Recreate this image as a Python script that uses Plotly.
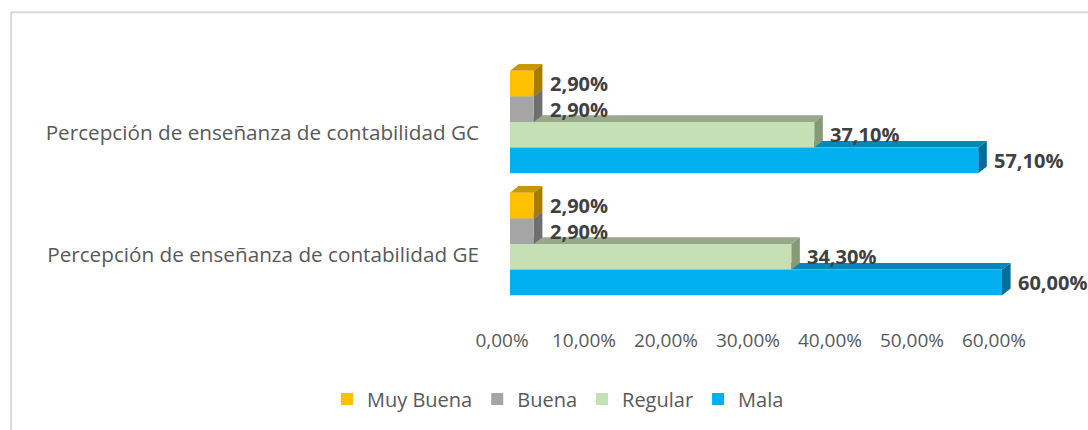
import plotly.graph_objects as go

categories = ["Percepción de enseñanza de contabilidad GE",
              "Percepción de enseñanza de contabilidad GC"]
# series listed bottom-to-top within each group
series_names = ["Mala", "Regular", "Buena", "Muy Buena"]
mala = [60.0, 57.1]
regular = [34.3, 37.1]
buena = [2.9, 2.9]
muy_buena = [2.9, 2.9]
x_ticks = [0, 10, 20, 30, 40, 50, 60]
x_tick_labels = ["0,00%", "10,00%", "20,00%", "30,00%", "40,00%", "50,00%", "60,00%"]

values = [mala, regular, buena, muy_buena]
front = ["#00B0F0", "#C5E0B4", "#A5A5A5", "#FFC000"]
top_c = ["#0088BA", "#98A98B", "#858585", "#C99800"]
side_c = ["#006F99", "#869A78", "#6E6E6E", "#A67C00"]

FONT = "Open Sans"
bargap = 0.16
n = len(series_names)
bw = (1 - bargap) / n
dx, dy = 1.05, 0.055

fig = go.Figure()
shapes = []
annotations = []
for i, (name, vals) in enumerate(zip(series_names, values)):
    fig.add_trace(go.Bar(
        y=list(range(len(categories))), x=vals, name=name, orientation="h",
        marker=dict(color=front[i], line=dict(width=0)),
        hoverinfo="x+name",
    ))
    for c, v in enumerate(vals):
        yb = c - (1 - bargap) / 2 + i * bw
        yt = yb + bw
        # top face
        shapes.append(dict(type="path", xref="x", yref="y", layer="below",
                           path=f"M 0 {yt} L {v} {yt} L {v+dx} {yt+dy} L {dx} {yt+dy} Z",
                           fillcolor=top_c[i], line=dict(width=0)))
        # side face
        shapes.append(dict(type="path", xref="x", yref="y", layer="below",
                           path=f"M {v} {yb} L {v} {yt} L {v+dx} {yt+dy} L {v+dx} {yb+dy} Z",
                           fillcolor=side_c[i], line=dict(width=0)))
        annotations.append(dict(
            x=v, y=(yb + yt) / 2, xref="x", yref="y", xanchor="left", yanchor="middle",
            xshift=14, showarrow=False,
            text=f"{v:.2f}".replace(".", ",") + "%",
            font=dict(family=FONT, size=20, color="#404040", weight="bold"),
        ))

# chart frame (top and left edges visible)
shapes.append(dict(type="line", xref="paper", yref="paper", x0=-0.936, x1=1.1,
                   y0=1.2, y1=1.2, line=dict(color="#D9D9D9", width=2), layer="below"))
shapes.append(dict(type="line", xref="paper", yref="paper", x0=-0.936, x1=-0.936,
                   y0=1.2, y1=-0.6, line=dict(color="#D9D9D9", width=2), layer="below"))

fig.update_layout(
    width=1088, height=430,
    margin=dict(l=510, r=45, t=61, b=120),
    paper_bgcolor="white", plot_bgcolor="white",
    barmode="group", bargap=bargap, bargroupgap=0,
    font=dict(family=FONT, color="#595959", size=20),
    showlegend=True,
    legend=dict(orientation="h", traceorder="reversed", x=0.09, xanchor="center",
                y=-0.385, yanchor="middle", font=dict(size=20, color="#595959"),
                itemwidth=30),
    xaxis=dict(range=[0, 65], tickvals=x_ticks, ticktext=x_tick_labels,
               showgrid=False, zeroline=False, showline=False, ticks="",
               ticklabelstandoff=22, ticklabelshift=-8,
               tickfont=dict(size=19, color="#595959")),
    yaxis=dict(range=[-0.5, 1.5], tickvals=list(range(len(categories))),
               ticktext=categories, showgrid=False, zeroline=False, showline=False,
               ticks="", ticklabelstandoff=30, ticklabelshift=11,
               tickfont=dict(size=20.7, color="#595959")),
    shapes=shapes, annotations=annotations,
)

fig.write_html("out.html")
